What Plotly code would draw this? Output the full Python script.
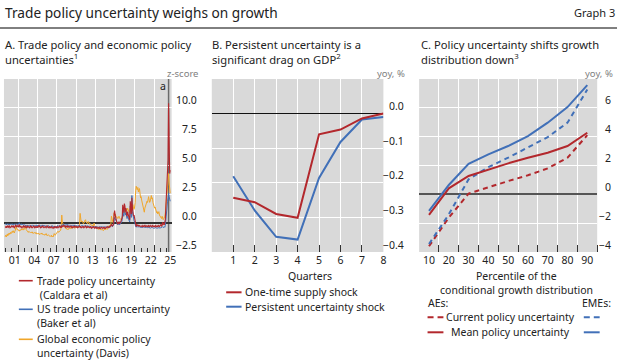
import plotly.graph_objects as go
import pandas as pd

W, H = 625, 361
def px(x): return x / W
def py(y): return 1 - y / H

FONT = "Noto Sans"
RED = "#B3282D"
BLUE = "#4170B8"
ORANGE = "#F0A62A"
TXT = "#222222"
GREY_BG = "#D9D9D9"

# ---------------- Panel A data (monthly z-scores, Jan 2000 - Jul 2025) ----------------
months = pd.date_range("2000-01-01", "2025-07-01", freq="MS")
tpu_caldara = [
    -0.30,-0.35,-0.25,-0.40,-0.30,-0.20,-0.35,-0.30,-0.25,-0.40,-0.35,-0.30,  # 2000
    -0.25,-0.35,-0.30,-0.20,-0.35,-0.40,-0.30,-0.25,-0.15,-0.35,-0.30,-0.20,  # 2001
    -0.30,-0.35,-0.10,-0.30,-0.35,-0.25,-0.30,-0.40,-0.35,-0.30,-0.25,-0.35,  # 2002
    -0.30,-0.25,-0.35,-0.40,-0.30,-0.35,-0.25,-0.30,-0.35,-0.40,-0.30,-0.25,  # 2003
    -0.35,-0.30,-0.40,-0.35,-0.30,-0.25,-0.35,-0.40,-0.30,-0.35,-0.30,-0.40,  # 2004
    -0.30,-0.35,-0.25,-0.20,-0.30,-0.35,-0.40,-0.30,-0.35,-0.30,-0.25,-0.35,  # 2005
    -0.40,-0.35,-0.30,-0.35,-0.40,-0.30,-0.25,-0.35,-0.40,-0.35,-0.30,-0.40,  # 2006
    -0.35,-0.40,-0.30,-0.35,-0.40,-0.45,-0.35,-0.30,-0.40,-0.35,-0.30,-0.40,  # 2007
    -0.35,-0.30,-0.40,-0.35,-0.30,-0.25,-0.35,-0.30,-0.40,-0.25,-0.30,-0.20,  # 2008
    -0.30,-0.20,-0.25,-0.30,-0.35,-0.25,-0.30,-0.35,-0.20,-0.30,-0.35,-0.30,  # 2009
    -0.35,-0.30,-0.25,-0.35,-0.30,-0.40,-0.35,-0.30,-0.35,-0.25,-0.30,-0.35,  # 2010
    -0.30,-0.35,-0.40,-0.30,-0.35,-0.30,-0.25,-0.35,-0.30,-0.40,-0.35,-0.30,  # 2011
    -0.35,-0.30,-0.40,-0.35,-0.30,-0.25,-0.35,-0.40,-0.30,-0.35,-0.30,-0.40,  # 2012
    -0.40,-0.35,-0.30,-0.40,-0.45,-0.35,-0.40,-0.35,-0.30,-0.40,-0.45,-0.35,  # 2013
    -0.40,-0.45,-0.35,-0.40,-0.45,-0.40,-0.35,-0.45,-0.40,-0.45,-0.40,-0.35,  # 2014
    -0.40,-0.45,-0.40,-0.35,-0.45,-0.40,-0.45,-0.35,-0.40,-0.30,-0.35,-0.40,  # 2015
    -0.35,-0.30,-0.35,-0.25,-0.30,-0.10,-0.20,-0.25,-0.15,-0.10, 0.80, 1.10,  # 2016
     0.70, 0.40, 0.20, 0.10, 0.00,-0.10, 0.05, 0.10,-0.05, 0.00, 0.10, 0.20,  # 2017
     0.30, 0.50, 1.60, 1.20, 0.90, 1.70, 1.50, 1.00, 1.30, 0.80, 0.60, 1.00,  # 2018
     0.70, 0.50, 0.40, 0.30, 1.90, 1.40, 0.80, 2.20, 1.30, 0.90, 0.60, 0.70,  # 2019
     0.40, 0.00,-0.20,-0.30,-0.10,-0.20,-0.25,-0.15,-0.30,-0.20,-0.25,-0.30,  # 2020
    -0.30,-0.25,-0.20,-0.30,-0.25,-0.30,-0.20,-0.25,-0.30,-0.20,-0.25,-0.30,  # 2021
    -0.25,-0.30,-0.20,-0.25,-0.30,-0.20,-0.25,-0.30,-0.25,-0.20,-0.30,-0.25,  # 2022
    -0.30,-0.25,-0.30,-0.20,-0.25,-0.30,-0.25,-0.30,-0.20,-0.25,-0.30,-0.25,  # 2023
    -0.20,-0.10,-0.25,-0.20, 0.10,-0.10,-0.05,-0.15, 0.00, 0.30, 1.50, 2.50,  # 2024
     2.80, 3.80, 5.50,10.40, 6.00, 4.30, 4.60,                                # 2025
]
tpu_baker = [
    -0.10,-0.05,-0.15,-0.10,-0.05,-0.10,-0.15,-0.05,-0.10,-0.15,-0.10,-0.05,  # 2000
    -0.10,-0.15,-0.05,-0.10,-0.15,-0.10,-0.05,-0.15,-0.10,-0.05,-0.10,-0.15,  # 2001
    -0.05,-0.10, 0.05,-0.10,-0.15,-0.10,-0.05,-0.15,-0.10,-0.15,-0.20,-0.10,  # 2002
    -0.15,-0.20,-0.15,-0.25,-0.20,-0.15,-0.20,-0.25,-0.20,-0.15,-0.20,-0.25,  # 2003
    -0.20,-0.25,-0.20,-0.15,-0.20,-0.25,-0.30,-0.20,-0.25,-0.20,-0.15,-0.25,  # 2004
    -0.20,-0.25,-0.15,-0.20,-0.25,-0.30,-0.20,-0.25,-0.20,-0.15,-0.25,-0.20,  # 2005
    -0.25,-0.20,-0.25,-0.30,-0.20,-0.25,-0.30,-0.25,-0.20,-0.30,-0.25,-0.30,  # 2006
    -0.25,-0.30,-0.25,-0.20,-0.30,-0.25,-0.30,-0.35,-0.25,-0.30,-0.25,-0.30,  # 2007
    -0.25,-0.20,-0.30,-0.25,-0.20,-0.25,-0.30,-0.25,-0.20,-0.15,-0.20,-0.10,  # 2008
    -0.15,-0.10,-0.20,-0.15,-0.20,-0.10,-0.15,-0.20,-0.10,-0.15,-0.20,-0.15,  # 2009
    -0.20,-0.15,-0.20,-0.25,-0.20,-0.15,-0.20,-0.25,-0.15,-0.20,-0.25,-0.20,  # 2010
    -0.25,-0.20,-0.25,-0.30,-0.20,-0.25,-0.20,-0.25,-0.30,-0.25,-0.20,-0.25,  # 2011
    -0.20,-0.25,-0.30,-0.25,-0.20,-0.25,-0.30,-0.25,-0.20,-0.25,-0.30,-0.25,  # 2012
    -0.25,-0.30,-0.25,-0.30,-0.35,-0.30,-0.25,-0.30,-0.35,-0.30,-0.25,-0.30,  # 2013
    -0.30,-0.35,-0.30,-0.35,-0.30,-0.35,-0.40,-0.30,-0.35,-0.30,-0.35,-0.30,  # 2014
    -0.35,-0.30,-0.35,-0.40,-0.30,-0.35,-0.30,-0.35,-0.40,-0.35,-0.30,-0.35,  # 2015
    -0.30,-0.35,-0.30,-0.25,-0.30,-0.20,-0.25,-0.30,-0.20,-0.15, 0.30, 0.50,  # 2016
     0.40, 0.20, 0.10, 0.00,-0.10,-0.15,-0.05, 0.00,-0.15,-0.10,-0.05, 0.05,  # 2017
     0.10, 0.30, 1.00, 0.80, 0.60, 1.30, 1.00, 0.70, 0.90, 0.50, 0.40, 0.60,  # 2018
     0.40, 0.30, 0.20, 0.10, 1.50, 1.10, 0.50, 2.40, 1.00, 0.60, 0.30, 0.20,  # 2019
     0.10,-0.20,-0.30,-0.35,-0.25,-0.30,-0.35,-0.30,-0.35,-0.30,-0.35,-0.40,  # 2020
    -0.35,-0.40,-0.35,-0.40,-0.35,-0.30,-0.35,-0.40,-0.35,-0.40,-0.35,-0.40,  # 2021
    -0.40,-0.35,-0.40,-0.35,-0.40,-0.45,-0.40,-0.35,-0.40,-0.35,-0.40,-0.45,  # 2022
    -0.40,-0.45,-0.40,-0.35,-0.40,-0.45,-0.40,-0.45,-0.40,-0.35,-0.40,-0.45,  # 2023
    -0.40,-0.35,-0.40,-0.35,-0.30,-0.35,-0.40,-0.30,-0.35,-0.20, 0.60, 1.20,  # 2024
     1.60, 1.90, 2.20, 2.60, 2.30, 2.00, 1.90,                                # 2025
]
epu_davis = [
    -1.15,-1.05,-1.20,-1.00,-0.95,-1.10,-0.90,-1.00,-0.85,-0.95,-0.80,-0.90,  # 2000
    -0.85,-0.70,-0.80,-0.65,-0.75,-0.85,-0.70,-0.60,-0.30,-0.45,-0.55,-0.60,  # 2001
    -0.55,-0.65,-0.70,-0.60,-0.65,-0.55,-0.50,-0.60,-0.55,-0.45,-0.60,-0.55,  # 2002
    -0.40,-0.35,-0.30,-0.55,-0.65,-0.70,-0.75,-0.80,-0.70,-0.75,-0.80,-0.85,  # 2003
    -0.80,-0.85,-0.75,-0.80,-0.90,-0.85,-0.80,-0.85,-0.90,-0.80,-0.85,-0.95,  # 2004
    -0.90,-0.95,-0.85,-0.90,-1.00,-0.95,-0.90,-0.95,-0.85,-0.90,-1.00,-0.95,  # 2005
    -1.00,-1.05,-0.95,-1.00,-0.90,-1.00,-1.10,-1.05,-1.00,-1.10,-1.05,-1.15,  # 2006
    -1.10,-1.15,-1.05,-1.20,-1.15,-1.20,-1.10,-0.90,-1.00,-1.05,-0.95,-0.90,  # 2007
    -0.85,-0.75,-0.70,-0.80,-0.75,-0.70,-0.65,-0.60,-0.30, 0.70, 0.10,-0.10,  # 2008
    -0.20,-0.25,-0.30,-0.35,-0.45,-0.40,-0.50,-0.55,-0.50,-0.55,-0.45,-0.50,  # 2009
    -0.45,-0.40,-0.50,-0.45,-0.25,-0.30,-0.40,-0.35,-0.40,-0.45,-0.35,-0.30,  # 2010
    -0.35,-0.40,-0.30,-0.40,-0.35,-0.20,-0.10, 0.85, 0.30, 0.10, 0.20, 0.15,  # 2011
     0.10,-0.05, 0.00, 0.05, 0.25, 0.30, 0.10, 0.05, 0.00,-0.05, 0.15, 0.05,  # 2012
    -0.05,-0.10,-0.05,-0.15,-0.20,-0.15,-0.20,-0.25,-0.10, 0.00,-0.20,-0.25,  # 2013
    -0.35,-0.40,-0.30,-0.45,-0.50,-0.55,-0.45,-0.50,-0.55,-0.50,-0.60,-0.55,  # 2014
    -0.60,-0.55,-0.65,-0.60,-0.55,-0.50,-0.55,-0.45,-0.50,-0.55,-0.45,-0.40,  # 2015
    -0.30,-0.20,-0.25,-0.15,-0.10, 0.60, 0.30, 0.10, 0.05, 0.20, 0.90, 0.70,  # 2016
     0.80, 0.60, 0.50, 0.55, 0.45, 0.40, 0.50, 0.60, 0.45, 0.40, 0.35, 0.30,  # 2017
     0.40, 0.50, 0.70, 0.60, 0.80, 1.00, 1.10, 0.90, 1.00, 1.20, 1.10, 1.30,  # 2018
     1.20, 1.00, 0.90, 1.10, 1.40, 1.50, 1.30, 1.70, 1.50, 1.60, 1.30, 1.20,  # 2019
     1.40, 1.80, 2.80, 3.20, 3.00, 2.90, 3.10, 2.70, 2.90, 3.00, 2.60, 2.20,  # 2020
     2.30, 2.00, 1.80, 1.60, 1.40, 1.20, 0.95, 1.30, 1.50, 1.70, 1.80, 1.90,  # 2021
     1.80, 2.10, 2.30, 2.00, 1.80, 1.90, 2.20, 2.40, 2.10, 2.20, 1.80, 1.60,  # 2022
     1.50, 1.30, 1.40, 1.20, 1.10, 0.90, 1.00, 0.80, 0.90, 1.00, 0.70, 0.60,  # 2023
     0.60, 0.50, 0.40, 0.60, 0.50, 0.30, 0.40, 0.50, 0.60, 0.90, 1.40, 2.00,  # 2024
     2.50, 3.00, 3.60, 4.30, 3.50, 2.80, 2.60,                                # 2025
]
names_a = ["Trade policy uncertainty<br> (Caldara et al)",
           "US trade policy uncertainty<br>(Baker et al)",
           "Global economic policy<br>uncertainty (Davis)"]
a_label_years = list(range(2001, 2026, 3))
a_tick_text = [f"{y % 100:02d}" for y in a_label_years]
a_grid_years = list(range(2002, 2024, 3))
a_minor_years = list(range(2000, 2026))
a_event_date = "2025-04-01"
a_yticks = [-2.5, 0, 2.5, 5, 7.5, 10]

# ---------------- Panel B data ----------------
quarters = [1, 2, 3, 4, 5, 6, 7, 8]
supply_shock = [-0.243, -0.256, -0.290, -0.301, -0.060, -0.046, -0.014, 0.000]
uncertainty_shock = [-0.181, -0.280, -0.356, -0.364, -0.186, -0.082, -0.017, -0.010]
names_b = ["One-time supply shock", "Persistent uncertainty shock"]
b_yticks = [-0.4, -0.3, -0.2, -0.1, 0.0]

# ---------------- Panel C data ----------------
percentiles = [10, 20, 30, 40, 50, 60, 70, 80, 90]
ae_current = [-3.60, -1.62, 0.05, 0.51, 0.92, 1.32, 1.80, 2.54, 4.11]
ae_mean = [-1.43, 0.42, 1.27, 1.73, 2.15, 2.54, 2.89, 3.35, 4.27]
eme_current = [-3.45, -1.39, 1.04, 1.89, 2.54, 3.28, 3.97, 4.97, 7.27]
eme_mean = [-1.15, 0.65, 2.12, 2.77, 3.35, 4.04, 4.97, 6.05, 7.57]
c_grid = [15, 25, 35, 45, 55, 65, 75, 85, 95]
c_yticks = [-4, -2, 0, 2, 4, 6]

fig = go.Figure()
# Panel A
fig.add_trace(go.Scatter(x=months, y=epu_davis, mode="lines", line=dict(color=ORANGE, width=1),
                         xaxis="x", yaxis="y", name="Davis"))
fig.add_trace(go.Scatter(x=months, y=tpu_baker, mode="lines", line=dict(color=BLUE, width=1),
                         xaxis="x", yaxis="y", name="Baker"))
fig.add_trace(go.Scatter(x=months, y=tpu_caldara, mode="lines", line=dict(color=RED, width=1.1),
                         xaxis="x4", yaxis="y", name="Caldara"))
# Panel B
fig.add_trace(go.Scatter(x=quarters, y=uncertainty_shock, mode="lines", line=dict(color=BLUE, width=2),
                         xaxis="x2", yaxis="y2", name=names_b[1]))
fig.add_trace(go.Scatter(x=quarters, y=supply_shock, mode="lines", line=dict(color=RED, width=2),
                         xaxis="x2", yaxis="y2", name=names_b[0]))
# Panel C
DASH = "5px,4px"
fig.add_trace(go.Scatter(x=percentiles, y=ae_current, mode="lines", line=dict(color=RED, width=2, dash=DASH),
                         xaxis="x3", yaxis="y3"))
fig.add_trace(go.Scatter(x=percentiles, y=eme_current, mode="lines", line=dict(color=BLUE, width=2, dash=DASH),
                         xaxis="x3", yaxis="y3"))
fig.add_trace(go.Scatter(x=percentiles, y=ae_mean, mode="lines", line=dict(color=RED, width=2),
                         xaxis="x3", yaxis="y3"))
fig.add_trace(go.Scatter(x=percentiles, y=eme_mean, mode="lines", line=dict(color=BLUE, width=2),
                         xaxis="x3", yaxis="y3"))

ydom = [py(252), py(79)]
tickfont = dict(family=FONT, size=10.5, color=TXT)
a_range = ["1999-10-27", "2025-09-19"]

fig.update_layout(
    width=W, height=H, margin=dict(l=0, r=0, t=0, b=0),
    paper_bgcolor="white", plot_bgcolor=GREY_BG, showlegend=False,
    font=dict(family=FONT, size=10.5, color=TXT),
    xaxis=dict(domain=[px(4), px(173)], anchor="y", type="date", range=a_range,
               tickmode="array", tickvals=[f"{y}-07-01" for y in a_label_years], ticktext=a_tick_text,
               ticks="", showgrid=False, zeroline=False, showline=False, tickfont=tickfont,
               minor=dict(tickmode="array", tickvals=[f"{y}-01-01" for y in a_grid_years],
                          ticks="inside", ticklen=7, tickwidth=1, tickcolor="#333",
                          showgrid=True, gridcolor="white", gridwidth=1)),
    xaxis4=dict(overlaying="x", anchor="y", type="date", range=a_range, side="bottom",
                tickmode="array", tickvals=[f"{y}-01-01" for y in a_minor_years],
                ticks="inside", ticklen=4, tickwidth=1, tickcolor="#333",
                showticklabels=False, showgrid=False, zeroline=False, showline=False),
    yaxis=dict(domain=ydom, anchor="x", range=[-2.5, 12.5], tickvals=[-2.5, 0, 2.5, 5, 7.5, 10, 12.5],
               showticklabels=False, ticks="", showgrid=True, gridcolor="white", gridwidth=1,
               zeroline=True, zerolinecolor="#333", zerolinewidth=1.5, side="right"),
    xaxis2=dict(domain=[px(213.5), px(386.5)], anchor="y2", range=[0, 8], tickvals=quarters,
                ticks="inside", ticklen=7, tickwidth=1, tickcolor="#333",
                showgrid=True, gridcolor="white", gridwidth=1, zeroline=False, showline=False,
                tickfont=tickfont),
    yaxis2=dict(domain=ydom, anchor="x2", range=[-0.4, 0.1], tickvals=[-0.4, -0.3, -0.2, -0.1, 0, 0.1],
                showticklabels=False, ticks="", showgrid=True, gridcolor="white", gridwidth=1,
                zeroline=True, zerolinecolor="#111", zerolinewidth=1.2, side="right"),
    xaxis3=dict(domain=[px(422.5), px(602)], anchor="y3", range=[5, 95],
                tickmode="array", tickvals=percentiles, ticks="", showgrid=False,
                zeroline=False, showline=False, tickfont=tickfont,
                minor=dict(tickmode="array", tickvals=c_grid, ticks="inside", ticklen=7, tickwidth=1,
                           tickcolor="#333", showgrid=True, gridcolor="white", gridwidth=1)),
    yaxis3=dict(domain=ydom, anchor="x3", range=[-4, 8], tickvals=[-4, -2, 0, 2, 4, 6, 8],
                showticklabels=False, ticks="", showgrid=True, gridcolor="white", gridwidth=1,
                zeroline=True, zerolinecolor="#555", zerolinewidth=2, side="right"),
)

ann = []
def text(x, y, s, size=10.5, xanchor="left", yanchor="middle", color=TXT, **kw):
    ann.append(dict(x=x, y=y, xref=kw.pop("xref", "paper"), yref=kw.pop("yref", "paper"), text=s,
                    showarrow=False, xanchor=xanchor, yanchor=yanchor, align=kw.pop("align", "left"),
                    font=dict(family=FONT, size=size, color=color), **kw))

# Titles
text(px(3), py(12), "Trade policy uncertainty weighs on growth", size=13.7)
text(px(622), py(13), "Graph 3", size=11, xanchor="right")
text(px(3), py(35), "A. Trade policy and economic policy<br>uncertainties<sup>1</sup>", size=11.2, yanchor="top")
text(px(212), py(35), "B. Persistent uncertainty is a<br>significant drag on GDP<sup>2</sup>", size=11.2, yanchor="top")
text(px(422), py(35), "C. Policy uncertainty shifts growth<br>distribution down<sup>3</sup>", size=11.2, yanchor="top")

# Units
text(px(202), py(73), "z-score", size=9.5, xanchor="right", color="#808080")
text(px(410), py(73), "yoy, %", size=9.5, xanchor="right", color="#808080")
text(px(620), py(73), "yoy, %", size=9.5, xanchor="right", color="#808080")

def fmt(v, d):
    s = f"{v:.{d}f}"
    return s.replace("-", "\u2212")

for v in a_yticks:
    text(px(201), v, fmt(v, 1), xanchor="right", yref="y", yshift=7.5)
for v in b_yticks:
    text(px(409), v, fmt(v, 1), xanchor="right", yref="y2", yshift=7.5)
for v in c_yticks:
    text(px(618), v, fmt(v, 0), xanchor="right", yref="y3", yshift=7.5)

# event marker
text(a_event_date, py(86), "a", xref="x", xanchor="right", xshift=-1)

# axis titles
text(px(312), py(276), "Quarters", xanchor="center", align="center")
text(px(521), py(276), "Percentile of the", xanchor="center", align="center")
text(px(521), py(290), "conditional growth distribution", xanchor="center", align="center")

shapes = [
    dict(type="line", xref="paper", yref="paper", x0=0, x1=px(622), y0=py(28), y1=py(28),
         line=dict(color="#000", width=1)),
    dict(type="line", xref="x", yref="y domain", x0=a_event_date, x1=a_event_date, y0=0, y1=1,
         line=dict(color="#6a6a6a", width=1.5), layer="below"),
]

# Legend A (manual)
a_colors = [RED, BLUE, ORANGE]
a_rows = [280.7, 309.3, 339.3]
for name, col, yy in zip(names_a, a_colors, a_rows):
    shapes.append(dict(type="line", xref="paper", yref="paper", x0=px(19), x1=px(33),
                       y0=py(yy), y1=py(yy), line=dict(color=col, width=1.6)))
    nlines = name.count("<br>") + 1
    text(px(35), py(yy + (nlines - 1) * 13.6 / 2), name)

# Legend B
b_colors = [RED, BLUE]
b_rows = [292.3, 306.7]
for name, col, yy in zip(names_b, b_colors, b_rows):
    shapes.append(dict(type="line", xref="paper", yref="paper", x0=px(228), x1=px(243.5),
                       y0=py(yy), y1=py(yy), line=dict(color=col, width=2)))
    text(px(245), py(yy), name)

# Legend C
text(px(429), py(303.3), "AEs:")
text(px(618), py(303.3), "EMEs:", xanchor="right")
c_rows = [(317.3, "Current policy uncertainty", "6px,4px"), (332.3, "Mean policy uncertainty", "solid")]
for yy, label, dash in c_rows:
    for (x0, x1, col) in [(431, 447, RED), (588.5, 604.5, BLUE)]:
        shapes.append(dict(type="line", xref="paper", yref="paper", x0=px(x0), x1=px(x1),
                           y0=py(yy), y1=py(yy), line=dict(color=col, width=2, dash=dash)))
    text(px(515), py(yy), label, xanchor="center", align="center")

fig.update_layout(annotations=ann, shapes=shapes)
fig.write_html("out.html", config={"displayModeBar": False},
               post_script="document.body.style.margin='0px';document.body.style.overflow='hidden';")
